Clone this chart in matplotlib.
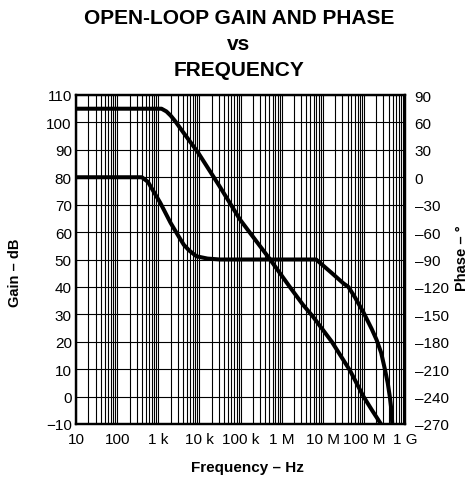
import matplotlib
matplotlib.use('Agg')
import matplotlib.pyplot as plt
from matplotlib.ticker import FixedLocator, NullFormatter

plt.rcParams['font.family'] = ['Liberation Sans', 'DejaVu Sans']

# Open-loop gain (dB) vs frequency (Hz)
gain_freq = [10, 1200, 1580, 2000, 2570, 4000, 9300, 31600, 98000, 525000,
             1.58e6, 3.3e6, 5.9e6, 1.66e7, 4.6e7, 9.8e7, 1.58e8, 2.6e8]
gain_db = [105, 105, 104, 102.5, 100.5, 96.5, 89, 76.5, 64.5, 50,
           40, 33.5, 29, 20, 9.5, 0, -5, -10]

# Phase (degrees) vs frequency (Hz)
phase_freq = [10, 400, 560, 1120, 2000, 3160, 4200, 5600, 8500, 15800, 31600,
              6.9e6, 1.58e7, 3.16e7, 4.2e7, 6.0e7, 9.8e7, 1.55e8, 2.04e8,
              2.63e8, 3.24e8, 3.8e8, 4.27e8, 4.68e8, 4.9e8]
phase_deg = [0, 0, -5, -28, -50, -65, -74, -80, -86.5, -89, -90,
             -90, -104, -116, -120, -131, -148, -166, -178,
             -192, -210, -225, -240, -255, -270]

freq_ticks = [10, 100, 1e3, 1e4, 1e5, 1e6, 1e7, 1e8, 1e9]
freq_labels = ['10', '100', '1 k', '10 k', '100 k', '1 M', '10 M', '100 M', '1 G']
gain_ticks = list(range(-10, 111, 10))
phase_ticks = list(range(-270, 91, 30))
phase_labels = [str(p).replace('-', '\u2013') for p in phase_ticks]

fig = plt.figure(figsize=(4.70, 4.81), dpi=100)
ax = fig.add_axes([76 / 470, 1 - 425 / 481, 329 / 470, 329 / 481])

ax.set_xscale('log')
ax.set_xlim(10, 1e9)
ax.set_ylim(-10, 110)

# log grid: decades plus 2..9 inside each decade
minor = [m * 10 ** d for d in range(1, 9) for m in range(2, 10)]
ax.xaxis.set_major_locator(FixedLocator(freq_ticks))
ax.xaxis.set_minor_locator(FixedLocator(minor))
ax.xaxis.set_minor_formatter(NullFormatter())
ax.set_xticks(freq_ticks)
ax.set_xticklabels(freq_labels)
ax.set_yticks(gain_ticks)
ax.grid(True, which='both', axis='x', color='black', linewidth=0.8)
ax.grid(True, which='major', axis='y', color='black', linewidth=0.8)
ax.tick_params(which='both', length=0, labelsize=11)
ax.tick_params(axis='x', pad=6)
ax.tick_params(axis='y', pad=3)
for s in ax.spines.values():
    s.set_linewidth(1.6)

ax.plot(gain_freq, gain_db, color='black', linewidth=2.9,
        solid_joinstyle='round', solid_capstyle='butt')

ax2 = ax.twinx()
ax2.set_ylim(-270, 90)
ax2.set_yticks(phase_ticks)
ax2.set_yticklabels(phase_labels)
ax2.tick_params(length=0, labelsize=11, pad=7)
for s in ax2.spines.values():
    s.set_linewidth(1.6)
ax2.plot(phase_freq, phase_deg, color='black', linewidth=2.9,
         solid_joinstyle='round', solid_capstyle='butt')

# titles and axis labels
fig.text(239 / 470, 1 - 19 / 481, 'OPEN-LOOP GAIN AND PHASE', ha='center', va='center',
         fontsize=15, fontweight='bold')
fig.text(239 / 470, 1 - 45 / 481, 'vs', ha='center', va='center',
         fontsize=15, fontweight='bold')
fig.text(239 / 470, 1 - 70 / 481, 'FREQUENCY', ha='center', va='center',
         fontsize=15, fontweight='bold')
fig.text(15 / 470, 1 - 273 / 481, 'Gain \u2013 dB', rotation=90, ha='center', va='center',
         fontsize=10.5, fontweight='bold')
fig.text(462 / 470, 1 - 258 / 481, 'Phase \u2013 \u00b0', rotation=90, ha='center', va='center',
         fontsize=10.5, fontweight='bold')
fig.text(247 / 470, 1 - 468 / 481, 'Frequency \u2013 Hz', ha='center', va='center',
         fontsize=11, fontweight='bold')

fig.savefig('out.png', dpi=100)
